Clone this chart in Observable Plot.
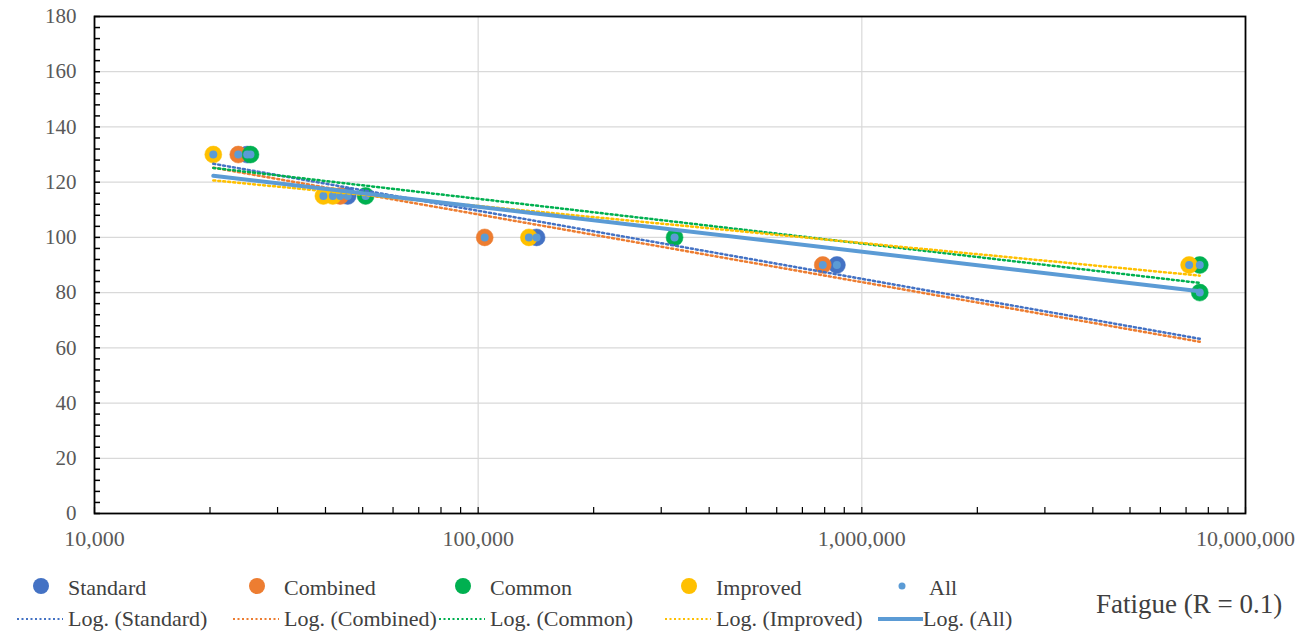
<!DOCTYPE html>
<html>
<head>
<meta charset="utf-8">
<script src="https://cdn.jsdelivr.net/npm/d3@7"></script>
<script src="https://cdn.jsdelivr.net/npm/@observablehq/plot@0.6"></script>
<style>
  body { margin: 0; background: #fff; }
  #chart { position: relative; width: 1308px; height: 631px; font-family: "Liberation Serif", "Times New Roman", serif; }
  #chart svg text { font-family: "Liberation Serif", "Times New Roman", serif; }
  .leg { position: absolute; font-size: 22px; color: #404040; line-height: 1; white-space: nowrap; transform: translateY(-50%); }
  .sw { position: absolute; transform: translateY(-50%); }
  .note { position: absolute; font-size: 27px; color: #404040; white-space: nowrap; transform: translateY(-50%); line-height: 1; }
</style>
</head>
<body>
<div id="chart"></div>
<script>
// Fatigue tests at R = 0.1: cycles to failure vs. maximum stress, per specimen type
const seriesNames = ["Standard", "Combined", "Common", "Improved"];
const seriesColors = ["#4472C4", "#ED7D31", "#00B050", "#FFC000"];
const allColor = "#5B9BD5";

const standardCycles = [25000, 45700, 142000, 861000];
const standardStress = [130, 115, 100, 90];

const combinedCycles = [23700, 43700, 104000, 791000];
const combinedStress = [130, 115, 100, 90];

const commonCycles = [25500, 50900, 325000, 7600000, 7600000];
const commonStress = [130, 115, 100, 90, 80];

const improvedCycles = [20400, 39500, 41800, 135600, 7130000];
const improvedStress = [130, 115, 115, 100, 90];

const yTicks = [0, 20, 40, 60, 80, 100, 120, 140, 160, 180];
const xTicks = [10000, 100000, 1000000, 10000000];

// Flatten into one table of observations
const cycles = [standardCycles, combinedCycles, commonCycles, improvedCycles];
const stress = [standardStress, combinedStress, commonStress, improvedStress];
const points = [];
seriesNames.forEach((name, i) => {
  cycles[i].forEach((c, j) => points.push({series: name, cycles: c, stress: stress[i][j]}));
});

// Logarithmic trend y = a + b·ln(x), fitted by least squares
function logFit(rows) {
  const xs = rows.map(d => Math.log(d.cycles)), ys = rows.map(d => d.stress);
  const mx = d3.mean(xs), my = d3.mean(ys);
  const b = d3.sum(xs, (x, i) => (x - mx) * (ys[i] - my)) / d3.sum(xs, x => (x - mx) ** 2);
  return {a: my - b * mx, b};
}
const span = d3.extent(points, d => d.cycles);
function trendRows(rows, name) {
  const {a, b} = logFit(rows);
  return span.map(x => ({series: name, cycles: x, stress: a + b * Math.log(x)}));
}
const trends = seriesNames.map(name => trendRows(points.filter(d => d.series === name), name));
const trendAll = trendRows(points, "All");

// Minor tick positions
const yMinor = d3.range(0, 181, 4);
const xMinor = [];
[1e4, 1e5, 1e6].forEach(d => { for (let k = 1; k <= 9; k++) xMinor.push(k * d); });
xMinor.push(1e7);

const W = 1308, H = 560, mL = 94, mR = 63, mT = 16, mB = 47;
const plotW = W - mL - mR, plotH = H - mT - mB;
const serif = "'Liberation Serif', 'Times New Roman', serif";

const plot = Plot.plot({
  width: W,
  height: H,
  marginLeft: mL,
  marginRight: mR,
  marginTop: mT,
  marginBottom: mB,
  style: {fontFamily: serif, fontSize: "21px", color: "#595959", background: "#fff"},
  x: {type: "log", domain: [1e4, 1e7]},
  y: {domain: [0, 180]},
  color: {domain: seriesNames, range: seriesColors},
  marks: [
    Plot.gridY(yTicks.filter(d => d > 0 && d < 180), {stroke: "#d9d9d9", strokeOpacity: 1, strokeWidth: 1.2}),
    Plot.gridX([1e5, 1e6], {stroke: "#d9d9d9", strokeOpacity: 1, strokeWidth: 1.2}),
    Plot.tickY(yMinor, {y: d => d, stroke: "#000", strokeWidth: 1.5, insetRight: plotW - 6}),
    Plot.tickX(xMinor, {x: d => d, stroke: "#000", strokeWidth: 1.2, insetTop: plotH - 6}),
    Plot.dot(points, {x: "cycles", y: "stress", r: 8.5, fill: "series", stroke: "series", strokeWidth: 0.5}),
    Plot.dot(points, {x: "cycles", y: "stress", r: 4, fill: allColor}),
    ...trends.map((t, i) => Plot.line(t, {x: "cycles", y: "stress", stroke: seriesColors[i], strokeWidth: 2.5, strokeDasharray: "2,3"})),
    Plot.line(trendAll, {x: "cycles", y: "stress", stroke: allColor, strokeWidth: 4}),
    Plot.frame({stroke: "#000", strokeWidth: 1.8}),
    Plot.axisY({ticks: yTicks, tickSize: 0, tickPadding: 18, fill: "#595959", fontSize: 21, label: null}),
    Plot.axisX({ticks: xTicks, tickSize: 0, tickPadding: 17, tickFormat: d3.format(","), fill: "#595959", fontSize: 22, label: null})
  ]
});

const chart = document.getElementById("chart");
chart.appendChild(plot);

// Legend below the plot
const textX = [68, 284, 490, 716, 929];
const row2X = [68, 284, 490, 716, 923];
const row1Y = 588, row2Y = 619;
const legNames = [...seriesNames, "All"];
const legColors = [...seriesColors, allColor];

function addSwatch(x, y, svg) {
  const el = document.createElement("div");
  el.className = "sw";
  el.style.left = x + "px";
  el.style.top = y + "px";
  el.innerHTML = svg;
  chart.appendChild(el);
}
function addText(x, y, txt, cls) {
  const el = document.createElement("div");
  el.className = cls;
  el.style.left = x + "px";
  el.style.top = y + "px";
  el.textContent = txt;
  chart.appendChild(el);
}

legNames.forEach((name, i) => {
  const r = i < 4 ? 8 : 3.5;
  const cx = textX[i] - 27;
  addSwatch(cx - 10, row1Y, `<svg width="20" height="20"><circle cx="10" cy="10" r="${r}" fill="${legColors[i]}"/></svg>`);
  addText(textX[i], row1Y, name, "leg");
  const x2 = row2X[i] - 5, x1 = row2X[i] - (i < 4 ? 51 : 45);
  const len = x2 - x1;
  const line = i < 4
    ? `<line x1="0" y1="5" x2="${len}" y2="5" stroke="${legColors[i]}" stroke-width="2" stroke-dasharray="2,2.5"/>`
    : `<line x1="0" y1="5" x2="${len + 5}" y2="5" stroke="${legColors[i]}" stroke-width="4"/>`;
  addSwatch(x1, row2Y, `<svg width="${len + 6}" height="10">${line}</svg>`);
  addText(row2X[i], row2Y, `Log. (${name})`, "leg");
});
addText(1096, 604, "Fatigue (R = 0.1)", "note");
</script>
</body>
</html>
